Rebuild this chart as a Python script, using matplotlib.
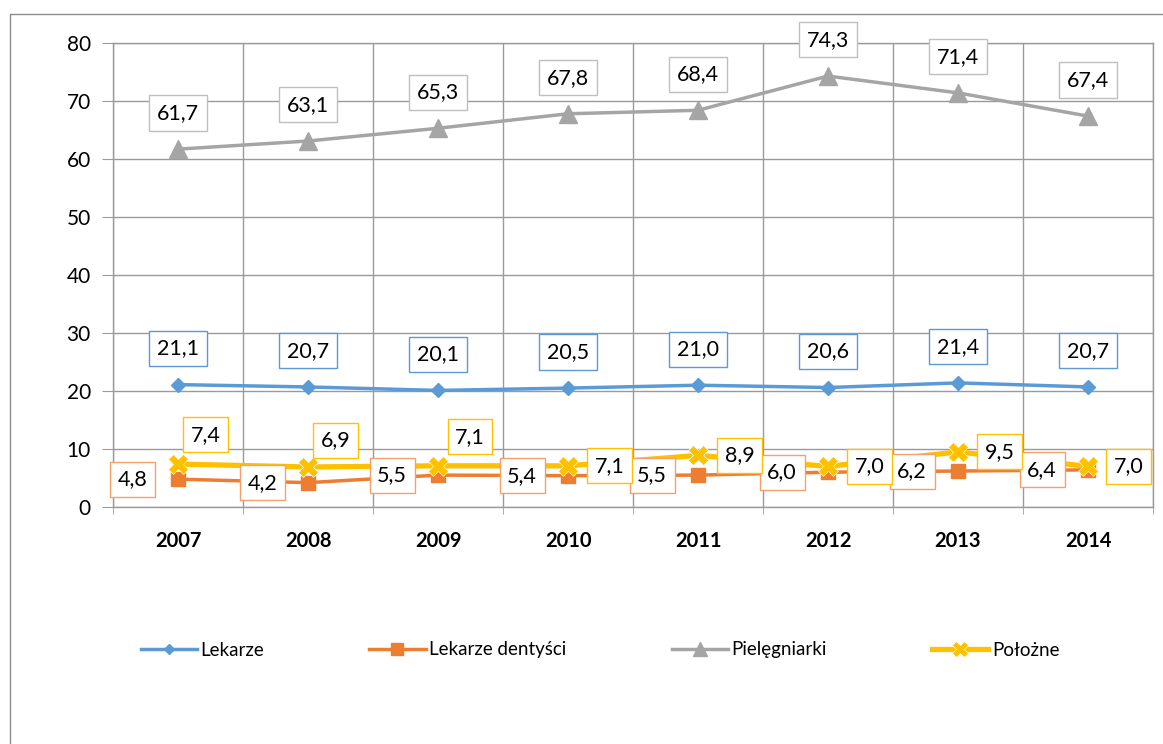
import matplotlib
matplotlib.use("Agg")
import matplotlib.pyplot as plt
from matplotlib.patches import Rectangle

plt.rcParams['font.family'] = ['Lato', 'DejaVu Sans']

# data
years = ['2007', '2008', '2009', '2010', '2011', '2012', '2013', '2014']
lekarze = [21.1, 20.7, 20.1, 20.5, 21.0, 20.6, 21.4, 20.7]
dentysci = [4.8, 4.2, 5.5, 5.4, 5.5, 6.0, 6.2, 6.4]
pielegniarki = [61.7, 63.1, 65.3, 67.8, 68.4, 74.3, 71.4, 67.4]
polozne = [7.4, 6.9, 7.1, 7.1, 8.9, 7.0, 9.5, 7.0]
names = ['Lekarze', 'Lekarze dentyści', 'Pielęgniarki', 'Położne']

c_blue = '#5B9BD5'
c_orange = '#ED7D31'
c_gray = '#A5A5A5'
c_yellow = '#FFC000'
grid_c = '#9A9A9A'

fig = plt.figure(figsize=(11.63, 7.44), dpi=100)
ax = fig.add_axes([113/1163, 1-507/744, 1040/1163, 464/744])

# outer frame of chart area
fig.patches.append(Rectangle((10/1163, -0.1), 1.2, 1-14/744+0.1, transform=fig.transFigure,
                             fill=False, edgecolor='#8C8C8C', lw=1.0))

x = list(range(len(years)))
ax.plot(x, lekarze, color=c_blue, lw=2.5, marker='D', ms=7, label=names[0], zorder=3)
ax.plot(x, dentysci, color=c_orange, lw=2.5, marker='s', ms=10, label=names[1], zorder=3)
ax.plot(x, pielegniarki, color=c_gray, lw=2.5, marker='^', ms=13, label=names[2], zorder=3)
ax.plot(x, polozne, color=c_yellow, lw=3.8, marker='X', ms=14, mec='white', mew=0.5,
        label=names[3], zorder=4)

def fmt(v):
    return ('%.1f' % v).replace('.', ',')

def lab(xi, v, dx, dy, ec):
    ax.annotate(fmt(v), (xi, v), xytext=(dx, dy), textcoords='offset points',
                ha='center', va='center', fontsize=15.5, zorder=10,
                bbox=dict(boxstyle='square,pad=0.35', fc='white', ec=ec, lw=1.0))

for i in x:
    lab(i, pielegniarki[i], 0, 26, '#BFBFBF')
    lab(i, lekarze[i], 0, 26, c_blue)
    lab(i, dentysci[i], -33, 0, '#F4A06A')
pol_off = [(20, 21), (20, 19), (23, 21), (30, 0), (30, 0), (30, 0), (30, 0), (29, 0)]
for i in x:
    lab(i, polozne[i], pol_off[i][0], pol_off[i][1], c_yellow)

ax.set_xlim(-0.5, 7.5)
ax.set_ylim(0, 80)
ax.set_yticks(range(0, 81, 10))
ax.set_xticks(x)
ax.set_xticklabels(years, fontweight='bold', fontsize=14.5)
ax.set_xticks([i - 0.5 for i in range(9)], minor=True)
ax.tick_params(axis='x', which='major', length=0, pad=17)
ax.tick_params(axis='x', which='minor', length=5, color=grid_c)
ax.tick_params(axis='y', length=8, color=grid_c, labelsize=15, pad=8)
ax.grid(True, axis='y', color=grid_c, lw=1)
ax.grid(True, axis='x', which='minor', color=grid_c, lw=1)
for s in ax.spines.values():
    s.set_color(grid_c)
    s.set_linewidth(1)
ax.set_axisbelow(True)

fig.legend(loc='center', bbox_to_anchor=(600/1163, 1-650/744), ncol=4, frameon=False,
           fontsize=13.5, handlelength=3.0, handletextpad=0.2, columnspacing=5.6,
           markerscale=0.8)

fig.savefig('out.png', dpi=100)
